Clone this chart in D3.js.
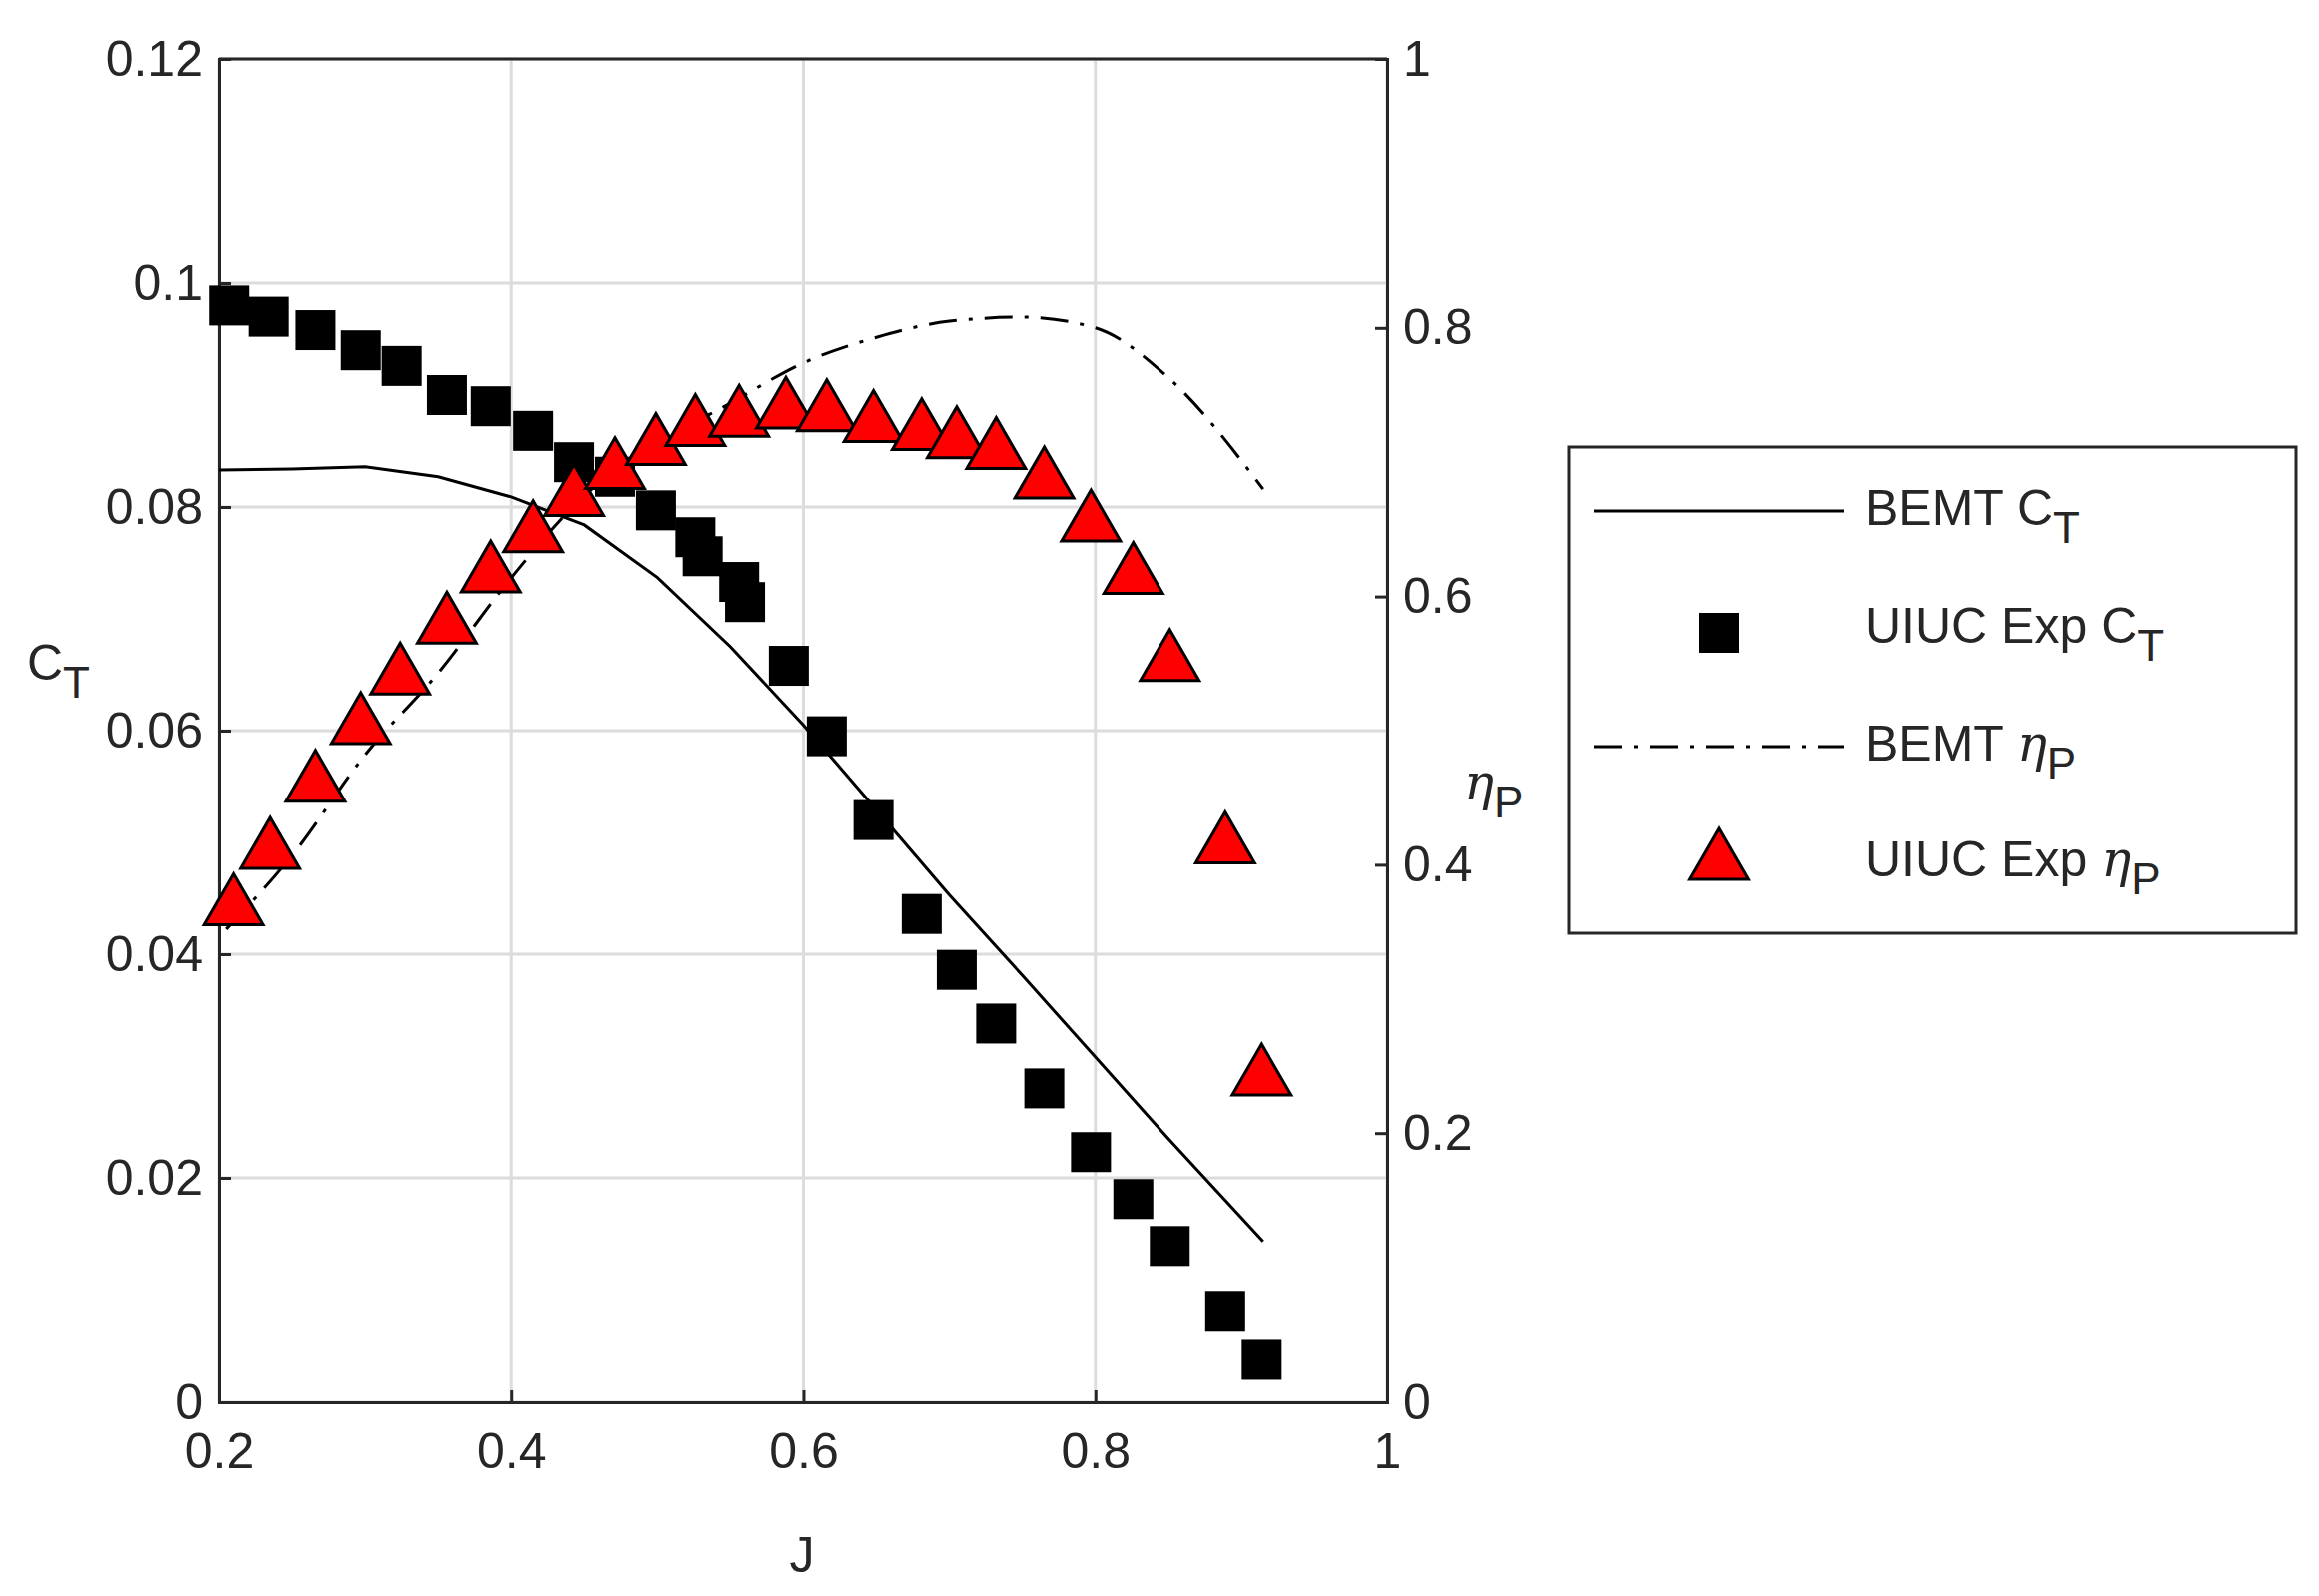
<!DOCTYPE html><html><head><meta charset="utf-8"><script src="https://cdn.jsdelivr.net/npm/d3@7"></script>
<style>body{margin:0;background:#fff}text{font-family:"Liberation Sans",Arial,sans-serif;fill:#262626}</style></head><body><svg id="c" width="2320" height="1597"></svg><script>
const expJ=[0.207,0.234,0.266,0.297,0.325,0.356,0.386,0.415,0.443,0.471,0.499,0.526,0.531,0.556,0.56,0.59,0.616,0.648,0.681,0.705,0.732,0.765,0.797,0.826,0.851,0.889,0.914];
const expCT=[0.098,0.097,0.0958,0.094,0.0926,0.090,0.089,0.0868,0.084,0.0827,0.0797,0.0773,0.0756,0.0733,0.0715,0.0658,0.0595,0.052,0.0436,0.0386,0.0338,0.028,0.0223,0.0181,0.0139,0.0081,0.0038];
const effJ=[0.21,0.235,0.266,0.297,0.324,0.356,0.386,0.415,0.443,0.471,0.499,0.526,0.556,0.588,0.616,0.648,0.681,0.705,0.732,0.765,0.797,0.826,0.851,0.889,0.914];
const effEta=[0.368,0.41,0.46,0.503,0.54,0.578,0.616,0.646,0.673,0.693,0.711,0.725,0.732,0.738,0.736,0.728,0.722,0.716,0.708,0.686,0.654,0.615,0.55,0.414,0.241];
const bemtJ=[0.2,0.25,0.3,0.35,0.4,0.45,0.5,0.55,0.6,0.65,0.7,0.75,0.8,0.85,0.915];
const bemtCT=[0.0833,0.0834,0.0836,0.0827,0.0809,0.0784,0.0737,0.0675,0.0605,0.0529,0.0453,0.0381,0.0308,0.0235,0.0143];
const bemtEtaJ=[0.205,0.25,0.3,0.35,0.4,0.45,0.5,0.55,0.6,0.65,0.7,0.75,0.8,0.85,0.915];
const bemtEta=[0.352,0.407,0.482,0.543,0.614,0.675,0.714,0.744,0.774,0.793,0.805,0.808,0.8,0.763,0.68];
const xTicks=[0.2,0.4,0.6,0.8,1], yTicks=[0,0.02,0.04,0.06,0.08,0.1,0.12], y2Ticks=[0,0.2,0.4,0.6,0.8,1];
const L=219,R=1388,T=59,B=1403;
const svg=d3.select("#c");
const x=d3.scaleLinear().domain([0.2,1]).range([L,R]);
const y=d3.scaleLinear().domain([0,0.12]).range([B,T]);
const y2=d3.scaleLinear().domain([0,1]).range([B,T]);
const g=svg.append("g");
xTicks.forEach(t=>g.append("line").attr("x1",x(t)).attr("x2",x(t)).attr("y1",T).attr("y2",B).attr("stroke","#dcdcdc").attr("stroke-width",3));
yTicks.forEach(t=>g.append("line").attr("x1",L).attr("x2",R).attr("y1",y(t)).attr("y2",y(t)).attr("stroke","#dcdcdc").attr("stroke-width",3));
const fmt=d=>d===0?"0":d===1?"1":String(d);
const fs=50;
const ax=svg.append("g").attr("transform",`translate(0,${B})`).call(d3.axisBottom(x).tickValues(xTicks).tickFormat(fmt).tickSize(-12).tickPadding(30));
const ay=svg.append("g").attr("transform",`translate(${L},0)`).call(d3.axisLeft(y).tickValues(yTicks).tickFormat(fmt).tickSize(-12).tickPadding(16));
const ay2=svg.append("g").attr("transform",`translate(${R},0)`).call(d3.axisRight(y2).tickValues(y2Ticks).tickFormat(fmt).tickSize(-12).tickPadding(16));
[ax,ay,ay2].forEach(a=>{a.selectAll("path,line").attr("stroke","#262626").attr("stroke-width",3);a.selectAll("text").attr("font-size",fs).attr("fill","#262626").attr("font-family","Liberation Sans, Arial")});
svg.append("line").attr("x1",L).attr("x2",R).attr("y1",T).attr("y2",T).attr("stroke","#262626").attr("stroke-width",3);
const line=d3.line();
svg.append("path").attr("d",line(bemtJ.map((j,i)=>[x(j),y(bemtCT[i])]))).attr("fill","none").attr("stroke","#000").attr("stroke-width",3);
svg.append("path").attr("d",d3.line().curve(d3.curveMonotoneX)(bemtEtaJ.map((j,i)=>[x(j),y2(bemtEta[i])]))).attr("fill","none").attr("stroke","#000").attr("stroke-width",3).attr("stroke-dasharray","28 12 4 12");
const sq=40;
svg.selectAll(".sq").data(expJ).enter().append("rect").attr("x",(d)=>x(d)-sq/2).attr("y",(d,i)=>y(expCT[i])-sq/2).attr("width",sq).attr("height",sq).attr("fill","#000");
const tri=d3.symbol().type(d3.symbolTriangle).size(1500);
svg.selectAll(".tr").data(effJ).enter().append("path").attr("d",tri).attr("transform",(d,i)=>`translate(${x(d)},${y2(effEta[i])})`).attr("fill","#ff0000").attr("stroke","#000").attr("stroke-width",3);
const ct=svg.append("text").attr("x",27).attr("y",680).attr("font-size",fs);ct.append("tspan").text("C");ct.append("tspan").attr("dy",18).attr("font-size",44).text("T");
svg.append("text").attr("x",802).attr("y",1573).attr("text-anchor","middle").attr("font-size",fs).text("J");
const ep=svg.append("text").attr("x",1465).attr("y",800).attr("font-size",fs);ep.append("tspan").attr("font-style","italic").attr("font-family","DejaVu Serif").text("η");ep.append("tspan").attr("dy",18).attr("font-size",44).text("P");
svg.append("rect").attr("x",1570).attr("y",447).attr("width",727).attr("height",487).attr("fill","#fff").attr("stroke","#262626").attr("stroke-width",3);
const rows=[511,629,747,863];
svg.append("line").attr("x1",1595).attr("x2",1845).attr("y1",rows[0]).attr("y2",rows[0]).attr("stroke","#000").attr("stroke-width",3);
svg.append("rect").attr("x",1720-sq/2).attr("y",rows[1]+4-sq/2).attr("width",sq).attr("height",sq).attr("fill","#000");
svg.append("line").attr("x1",1595).attr("x2",1845).attr("y1",rows[2]).attr("y2",rows[2]).attr("stroke","#000").attr("stroke-width",3).attr("stroke-dasharray","28 12 4 12");
svg.append("path").attr("d",tri).attr("transform",`translate(1720,${rows[3]})`).attr("fill","#ff0000").attr("stroke","#000").attr("stroke-width",3);
const labs=[["BEMT C","T",false],["UIUC Exp C","T",false],["BEMT ","P",true],["UIUC Exp ","P",true]];
labs.forEach((l,i)=>{const t=svg.append("text").attr("x",1866).attr("y",rows[i]+14).attr("font-size",fs);t.append("tspan").text(l[0]);if(l[2])t.append("tspan").attr("font-style","italic").attr("font-family","DejaVu Serif").text("η");t.append("tspan").attr("dy",18).attr("font-size",44).text(l[1]);});
</script></body></html>
